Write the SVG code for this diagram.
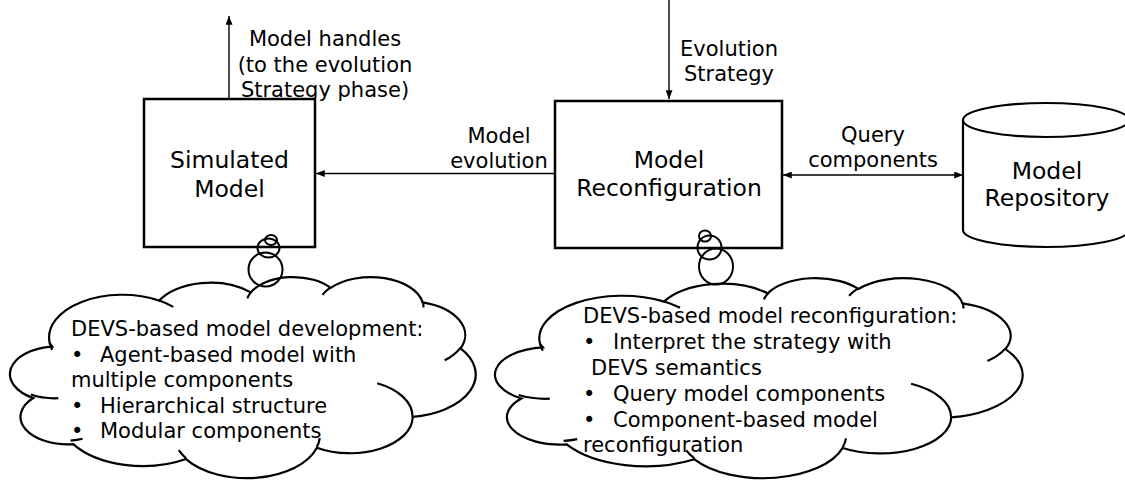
<svg xmlns="http://www.w3.org/2000/svg" width="1125" height="480" viewBox="0 0 1125 480">
  <style>
    text { font-family: "DejaVu Sans", "Liberation Sans", sans-serif; fill: #000; }
    .lbl { font-size: 21px; text-anchor: middle; }
    .node { font-size: 23.5px; text-anchor: middle; }
    .note { font-size: 21px; }
    .box { fill: #fff; stroke: #000; stroke-width: 2.5; }
    .cyl { fill: #fff; stroke: #000; stroke-width: 2.2; }
    .cloud { fill: #fff; stroke: #000; stroke-width: 2.2; vector-effect: non-scaling-stroke; }
    .cloudline { fill: none; stroke: #000; stroke-width: 2.2; vector-effect: non-scaling-stroke; }
    .bubble { fill: none; stroke: #000; stroke-width: 2; }
    .wire { fill: none; stroke: #000; stroke-width: 1.4; }
  </style>
  <defs>
    <marker id="ah" viewBox="0 0 10 8" refX="10" refY="4" markerWidth="9" markerHeight="7" markerUnits="userSpaceOnUse" orient="auto-start-reverse">
      <path d="M0,0 L10,4 L0,8 Z" fill="#000"/>
    </marker>
  </defs>

  <rect width="1125" height="480" fill="#fff"/>

  <!-- connectors -->
  <g id="connectors">
    <line class="wire" x1="229" y1="99" x2="229" y2="16" marker-end="url(#ah)"/>
    <line class="wire" x1="669" y1="0" x2="669" y2="99" marker-end="url(#ah)"/>
    <line class="wire" x1="555" y1="173.5" x2="316" y2="173.5" marker-end="url(#ah)"/>
    <line class="wire" x1="783" y1="175" x2="963" y2="175" marker-start="url(#ah)" marker-end="url(#ah)"/>
    <g id="connector-labels">
      <text class="lbl" x="325" y="46">Model handles</text>
      <text class="lbl" x="325" y="71.5">(to the evolution</text>
      <text class="lbl" x="325" y="97">Strategy phase)</text>
      <text class="lbl" x="729" y="55.5">Evolution</text>
      <text class="lbl" x="729" y="81">Strategy</text>
      <text class="lbl" x="499" y="143">Model</text>
      <text class="lbl" x="499" y="168">evolution</text>
      <text class="lbl" x="873" y="142">Query</text>
      <text class="lbl" x="873" y="167">components</text>
    </g>
  </g>

  <!-- simulated model -->
  <g id="simulated-model">
    <rect class="box" x="144" y="99" width="171" height="148"/>
    <text class="node" x="229.5" y="168.3">Simulated</text>
    <text class="node" x="229.5" y="196.7">Model</text>
  </g>

  <!-- model reconfiguration -->
  <g id="model-reconfiguration">
    <rect class="box" x="555" y="101" width="227" height="147"/>
    <text class="node" x="669" y="168.3">Model</text>
    <text class="node" x="669" y="196">Reconfiguration</text>
  </g>

  <!-- model repository (cylinder) -->
  <g id="model-repository">
    <path class="cyl" d="M963,120 V230 A83,17 0 0 0 1129,230 V120"/>
    <ellipse class="cyl" cx="1046" cy="120" rx="83" ry="17"/>
    <text class="node" x="1047" y="178.5">Model</text>
    <text class="node" x="1047" y="205.5">Repository</text>
  </g>

  <!-- thought cloud: model development (cloud drawn on a 43200 grid) -->
  <g id="cloud-development">
    <g transform="translate(7.5 276.4) scale(0.010833 0.0046528)">
      <path class="cloud" d="M3900 14370 A6753 9190 0 0 1 14005 5202 A5333 7267 0 0 1 22456 3431 A4365 5945 0 0 1 29833 2479 A4857 6595 0 0 1 38318 5574 A5333 7273 0 0 1 41818 15458 A6775 9220 0 0 1 37404 30202 A5785 7867 0 0 1 28556 36812 A6752 9215 0 0 1 16480 39263 A7720 10543 0 0 1 6067 36050 A4360 5918 0 0 1 2376 26128 A4345 5945 0 0 1 4126 15084 Z"/>
      <path class="cloudline" d="M4693 26177 A4345 5945 0 0 1 2160 25380 M6928 34899 A4360 5918 0 0 1 5820 35280 M16478 39090 A6752 9215 0 0 1 15810 37350 M28827 34751 A6752 9215 0 0 1 28560 36660 M34129 22954 A5785 7867 0 0 1 37381 30090 M41798 15354 A5333 7273 0 0 1 40351 18029 M38324 5426 A4857 6595 0 0 1 38400 6690 M29078 3952 A4857 6595 0 0 1 29820 2340 M22141 4720 A4365 5945 0 0 1 22500 3330 M14000 5192 A6753 9190 0 0 1 15300 6541 M4127 15789 A6753 9190 0 0 1 3900 14371"/>
    </g>
    <ellipse class="bubble" cx="271" cy="240" rx="6" ry="5"/>
    <ellipse class="bubble" cx="268.5" cy="248" rx="11" ry="9.5"/>
    <ellipse class="bubble" cx="265.5" cy="269.5" rx="17" ry="17"/>
    <text class="note" x="71" y="336">DEVS-based model development:</text>
    <text class="note" y="361.7"><tspan x="71">•</tspan><tspan x="100">Agent-based model with</tspan></text>
    <text class="note" x="71" y="387">multiple components</text>
    <text class="note" y="412.7"><tspan x="71">•</tspan><tspan x="100">Hierarchical structure</tspan></text>
    <text class="note" y="438"><tspan x="71">•</tspan><tspan x="100">Modular components</tspan></text>
  </g>

  <!-- thought cloud: model reconfiguration -->
  <g id="cloud-reconfiguration">
    <g transform="translate(492.2 277.5) scale(0.012273 0.0046296)">
      <path class="cloud" d="M3900 14370 A6753 9190 0 0 1 14005 5202 A5333 7267 0 0 1 22456 3431 A4365 5945 0 0 1 29833 2479 A4857 6595 0 0 1 38318 5574 A5333 7273 0 0 1 41818 15458 A6775 9220 0 0 1 37404 30202 A5785 7867 0 0 1 28556 36812 A6752 9215 0 0 1 16480 39263 A7720 10543 0 0 1 6067 36050 A4360 5918 0 0 1 2376 26128 A4345 5945 0 0 1 4126 15084 Z"/>
      <path class="cloudline" d="M4693 26177 A4345 5945 0 0 1 2160 25380 M6928 34899 A4360 5918 0 0 1 5820 35280 M16478 39090 A6752 9215 0 0 1 15810 37350 M28827 34751 A6752 9215 0 0 1 28560 36660 M34129 22954 A5785 7867 0 0 1 37381 30090 M41798 15354 A5333 7273 0 0 1 40351 18029 M38324 5426 A4857 6595 0 0 1 38400 6690 M29078 3952 A4857 6595 0 0 1 29820 2340 M22141 4720 A4365 5945 0 0 1 22500 3330 M14000 5192 A6753 9190 0 0 1 15300 6541 M4127 15789 A6753 9190 0 0 1 3900 14371"/>
    </g>
    <ellipse class="bubble" cx="705" cy="236" rx="6" ry="5.5"/>
    <ellipse class="bubble" cx="709.5" cy="247.5" rx="12" ry="12"/>
    <ellipse class="bubble" cx="716" cy="266.5" rx="17" ry="18"/>
    <text class="note" x="583" y="323.3">DEVS-based model reconfiguration:</text>
    <text class="note" y="349.3"><tspan x="583">•</tspan><tspan x="613">Interpret the strategy with</tspan></text>
    <text class="note" x="591" y="375">DEVS semantics</text>
    <text class="note" y="400.7"><tspan x="583">•</tspan><tspan x="613">Query model components</tspan></text>
    <text class="note" y="426.7"><tspan x="583">•</tspan><tspan x="613">Component-based model</tspan></text>
    <text class="note" x="583" y="451.7">reconfiguration</text>
  </g>
</svg>
